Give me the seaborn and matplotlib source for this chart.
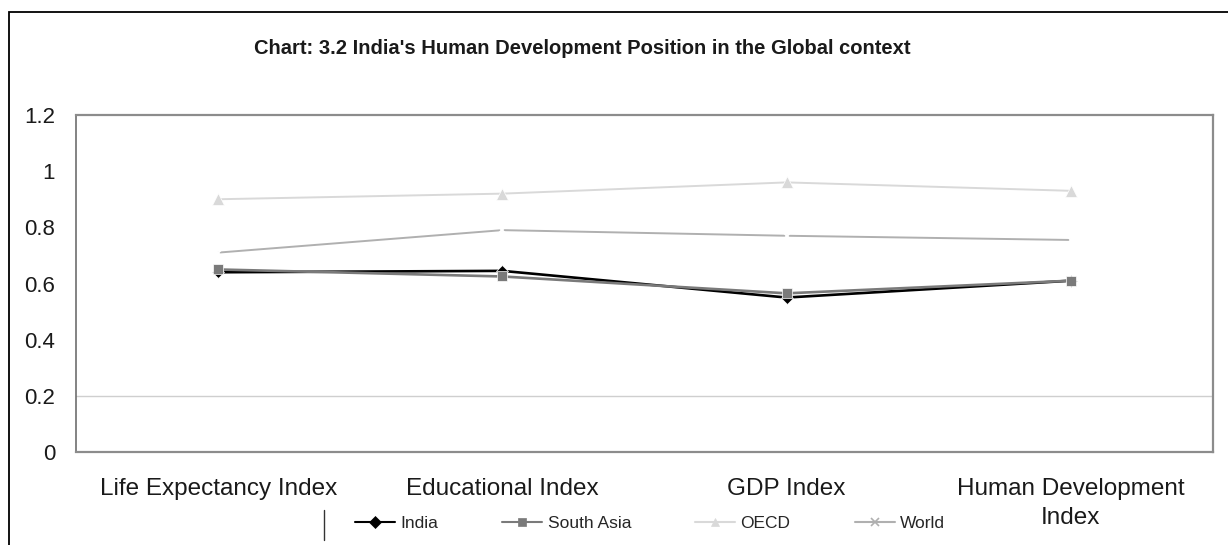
import pandas as pd
import matplotlib.pyplot as plt
import seaborn as sns
from matplotlib.lines import Line2D
from matplotlib.patches import Rectangle

categories = ["Life Expectancy Index", "Educational Index", "GDP Index", "Human Development Index"]
tick_labels = ["Life Expectancy Index", "Educational Index", "GDP Index", "Human Development\nIndex"]
regions = ["India", "South Asia", "OECD", "World"]
india = [0.64, 0.645, 0.55, 0.61]
south_asia = [0.65, 0.625, 0.565, 0.61]
oecd = [0.90, 0.92, 0.96, 0.93]
world = [0.71, 0.79, 0.77, 0.755]
y_ticks = [0, 0.2, 0.4, 0.6, 0.8, 1, 1.2]
y_tick_labels = ["0", "0.2", "0.4", "0.6", "0.8", "1", "1.2"]

rows = []
for name, vals in zip(regions, [india, south_asia, oecd, world]):
    for cat, v in zip(categories, vals):
        rows.append({"index": cat, "value": v, "region": name})
df = pd.DataFrame(rows)

sns.set_style("white")
plt.rcParams['font.family'] = ['Liberation Sans', 'DejaVu Sans']

fig = plt.figure(figsize=(12.28, 5.45), dpi=100)
ax = fig.add_axes([76 / 1228, 93 / 545, 1137 / 1228, 337 / 545])

palette = {"India": "#000000", "South Asia": "#7a7a7a", "OECD": "#d9d9d9", "World": "#b0b0b0"}
markers = {"India": "D", "South Asia": "s", "OECD": "^", "World": "X"}
sns.lineplot(data=df, x="index", y="value", hue="region", style="region",
             palette=palette, markers=markers, dashes=False, sort=False,
             markersize=7, linewidth=1.9, ax=ax, legend=False)
for line in ax.lines:
    line.set_markeredgewidth(0.5)
ax.lines[0].set_markersize(6)
ax.lines[2].set_markersize(8)
ax.lines[3].set_marker("x")
ax.lines[3].set_markersize(8)
ax.lines[3].set_markeredgewidth(1.4)
ax.lines[2].set_linewidth(1.4)
ax.lines[3].set_linewidth(1.4)

ax.set_xlim(-0.5, 3.5)
ax.set_ylim(0, 1.2)
ax.set_yticks(y_ticks)
ax.set_yticklabels(y_tick_labels)
ax.set_xticks(range(len(categories)))
ax.set_xticklabels(tick_labels, linespacing=1.4)
ax.set_xlabel("")
ax.set_ylabel("")
ax.tick_params(axis="y", length=0, pad=15, labelsize=16, colors="#1a1a1a")
ax.tick_params(axis="x", length=0, pad=19, labelsize=17.5, colors="#1a1a1a")
# small ticks between categories
ax.set_xticks([-0.5, 0.5, 1.5, 2.5, 3.5], minor=True)
ax.tick_params(axis="x", which="minor", length=5, color="#999999", width=1)
ax.axhline(0.2, color="#cfcfcf", linewidth=1, zorder=0)
for s in ax.spines.values():
    s.set_visible(True)
    s.set_color("#8c8c8c")
    s.set_linewidth(1.6)
ax.spines["left"].set_color("#6e6e6e")
ax.spines["left"].set_linewidth(1.2)

fig.text(582 / 1228, 1 - 49 / 545, "Chart: 3.2 India's Human Development Position in the Global context",
         ha="center", va="center", fontsize=14.5, fontweight="bold", color="#1a1a1a")

handles = [Line2D([], [], color=palette[r], marker=("x" if r == "World" else markers[r]),
                  markersize=6, linewidth=1.5, markeredgewidth=(1.2 if r == "World" else 0.5))
           for r in regions]
fig.legend(handles, regions, loc="center", bbox_to_anchor=(650 / 1228, 22 / 545), ncol=4,
           frameon=False, fontsize=12.5, handlelength=2.3, handletextpad=0.3, columnspacing=3.7)

fig.add_artist(Line2D([324 / 1228, 324 / 1228], [5 / 545, 35 / 545], color="#333333", linewidth=1))
fig.add_artist(Rectangle((8.5 / 1228, -0.1), 1.2, 1.1 - 12.5 / 545, transform=fig.transFigure,
                         fill=False, edgecolor="#000000", linewidth=1.3))

fig.savefig("out.png", dpi=100, facecolor="white")
